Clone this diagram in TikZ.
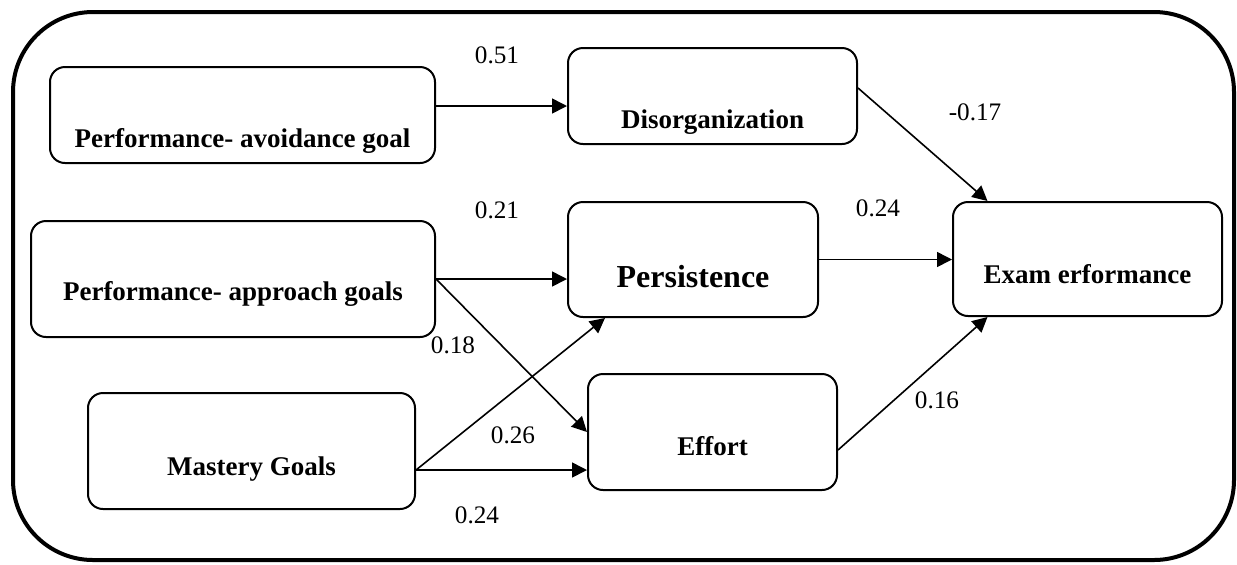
\documentclass[tikz,border=0pt]{standalone}
\usepackage{fontspec}
\setmainfont{Liberation Serif}
\usepackage{tikz}
\usetikzlibrary{arrows.meta, positioning}

\tikzset{
  pbox/.style={draw, line width=1pt, rounded corners=7.5pt, font=\bfseries\fontsize{13.5}{15}\selectfont, inner sep=0pt, text depth=0pt},
  coef/.style={font=\fontsize{12.6}{14}\selectfont, inner sep=0pt},
  parr/.style={line width=0.8pt, -{Triangle[length=7.5pt, width=7.5pt]}}
}

\begin{document}
\begin{tikzpicture}[x=0.5pt, y=-0.5pt]
            \useasboundingbox (0, 0) rectangle (1237, 564);
            \draw[line width=2pt, rounded corners=40pt] (13, 12) rectangle (1234, 560);
            % boxes
            \node[pbox, minimum width=192.5pt, minimum height=48pt, text height=32pt] (pavoid) at (242.5, 115) {Performance- avoidance goal};
            \node[pbox, minimum width=144.5pt, minimum height=48pt, text height=32pt] (disorg) at (712.5, 96) {Disorganization};
            \node[pbox, minimum width=202pt, minimum height=58pt, text height=21pt] (papproach) at (233, 279) {Performance- approach goals};
            \node[pbox, minimum width=125pt, minimum height=57.5pt, text height=27.5pt, font=\bfseries\fontsize{16}{18}\selectfont] (persist) at (693, 259.5) {Persistence};
            \node[pbox, minimum width=134.5pt, minimum height=57pt, text height=24pt] (exam) at (1087.5, 259) {Exam erformance};
            \node[pbox, minimum width=163.5pt, minimum height=58pt, text height=24pt] (mastery) at (251.5, 451) {Mastery Goals};
            \node[pbox, minimum width=124.5pt, minimum height=58pt, text height=23pt] (effort) at (712.5, 432) {Effort};
            % paths
            \draw[parr] ([yshift=4.5pt]pavoid.east) -- ([yshift=4.5pt]pavoid.east -| disorg.west);
            \draw[parr] ([yshift=4pt]disorg.east) -- ([xshift=-50pt]exam.north);
            \draw[parr] (persist.east) -- (persist.east -| exam.west);
            \draw[parr] (papproach.east) -- (papproach.east -| persist.west);
            \draw[parr] (papproach.east) -- (effort.west);
            \draw[parr] ([yshift=-9.5pt]mastery.east) -- ([yshift=-9.5pt]mastery.east -| effort.west);
            \draw[parr] ([yshift=-9.5pt]mastery.east) -- ([xshift=-44pt]persist.south);
            \draw[parr] ([yshift=-9pt]effort.east) -- ([xshift=-50pt]exam.south);
            % coefficients
            \node[coef] (c51) at (497, 55) {0.51};
            \node[coef] (c17) at (975, 112) {-0.17};
            \node[coef] (c24a) at (878, 208) {0.24};
            \node[coef] (c21) at (497, 210) {0.21};
            \node[coef] (c18) at (453, 345) {0.18};
            \node[coef] (c26) at (513, 435) {0.26};
            \node[coef] (c24b) at (477, 515) {0.24};
            \node[coef] (c16) at (937, 400) {0.16};
        \end{tikzpicture}
\end{document}
